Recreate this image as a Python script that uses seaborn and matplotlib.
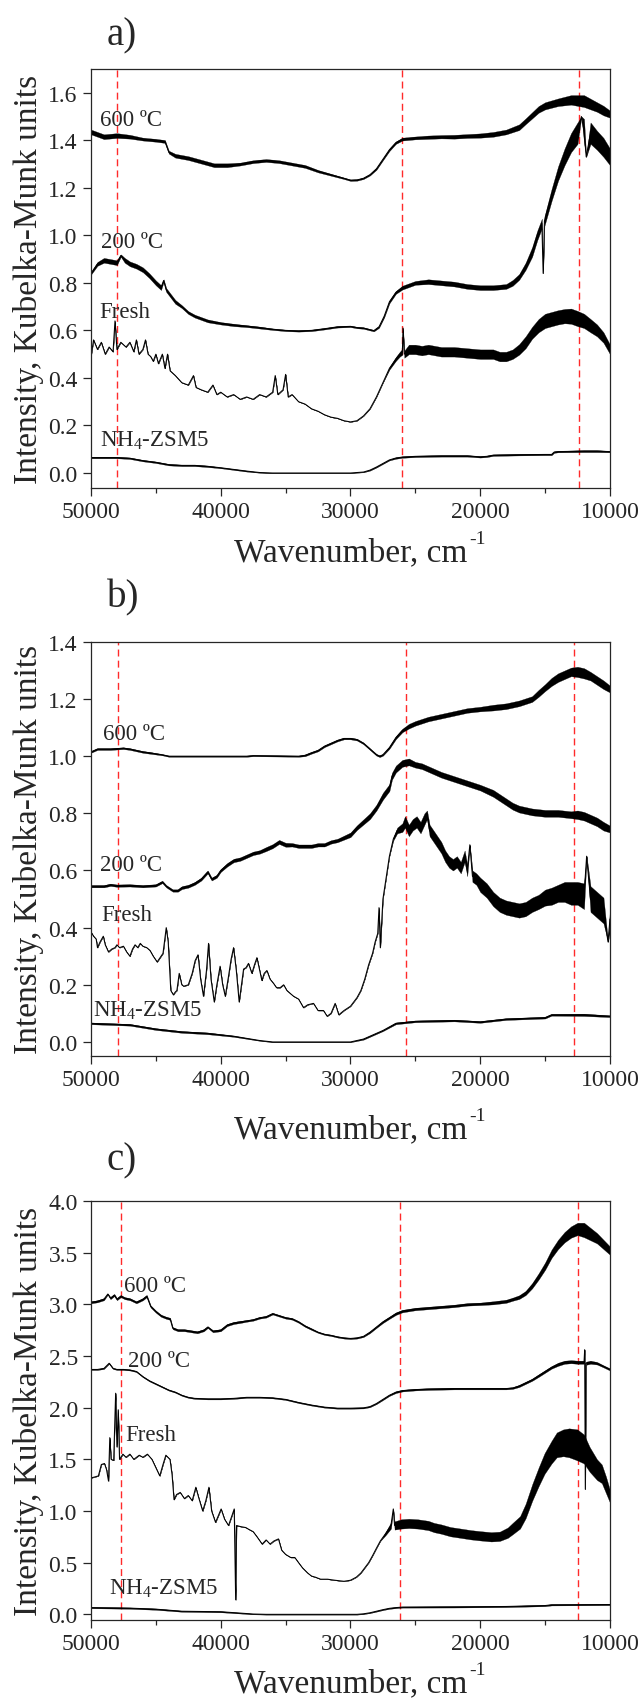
import pandas as pd
import matplotlib
matplotlib.use("Agg")
import matplotlib.pyplot as plt
import seaborn as sns
from matplotlib.ticker import MultipleLocator, FormatStrFormatter

# ---------- DATA ----------
# each curve: (wavenumber, intensity, half-width of the noise band)

a_600 = [(50000, 1.435, .010), (49000, 1.415, .010), (48000, 1.420, .010), (47000, 1.415, .008),
         (46000, 1.405, .006), (45000, 1.400, .006), (44300, 1.395, .006), (44000, 1.350, .006),
         (43500, 1.335, .008), (42500, 1.325, .008), (41500, 1.310, .008), (40500, 1.295, .008),
         (39500, 1.295, .008), (38500, 1.300, .006), (37500, 1.310, .006), (36500, 1.315, .006),
         (35500, 1.310, .006), (34500, 1.300, .006), (33500, 1.290, .006), (32500, 1.270, .005),
         (31500, 1.255, .004), (30500, 1.240, .003), (30000, 1.232, .003), (29500, 1.233, .003),
         (29000, 1.240, .003), (28500, 1.255, .003), (28000, 1.280, .004), (27500, 1.320, .004),
         (27000, 1.360, .005), (26500, 1.390, .005), (26000, 1.405, .006), (25000, 1.410, .006),
         (24000, 1.413, .007), (23000, 1.415, .007), (22000, 1.415, .008), (21000, 1.418, .008),
         (20000, 1.420, .009), (19000, 1.425, .010), (18000, 1.435, .010), (17000, 1.455, .012),
         (16500, 1.480, .012), (16000, 1.505, .013), (15500, 1.530, .014), (15000, 1.545, .015),
         (14000, 1.560, .016), (13000, 1.570, .020), (12000, 1.565, .025), (11000, 1.540, .020),
         (10500, 1.525, .020), (10000, 1.510, .015)]

a_200 = [(50000, .840, .005), (49500, .880, .008), (49000, .895, .010), (48500, .890, .010),
         (48000, .885, .010), (47700, .915, .005), (47400, .895, .010), (47000, .880, .010),
         (46500, .870, .010), (46000, .855, .010), (45500, .830, .010), (45000, .800, .010),
         (44600, .780, .010), (44400, .810, .005), (44200, .770, .008), (43500, .720, .008),
         (43000, .700, .006), (42500, .675, .006), (42000, .660, .006), (41000, .640, .006),
         (40000, .630, .005), (39000, .623, .005), (38000, .618, .004), (37000, .612, .004),
         (36000, .605, .003), (35000, .600, .003), (34000, .598, .003), (33000, .600, .003),
         (32000, .607, .003), (31000, .615, .003), (30000, .617, .003), (29500, .612, .003),
         (29000, .610, .003), (28500, .603, .003), (28200, .599, .003), (27800, .615, .004),
         (27400, .660, .005), (27000, .720, .006), (26500, .760, .006), (26000, .780, .008),
         (25500, .790, .008), (25000, .800, .008), (24000, .805, .010), (23000, .800, .010),
         (22000, .795, .010), (21000, .785, .010), (20000, .780, .010), (19000, .780, .010),
         (18000, .785, .010), (17500, .800, .012), (17000, .825, .012), (16500, .870, .015),
         (16000, .930, .020), (15600, 1.000, .020), (15250, 1.050, .020), (15150, .840, .000),
         (15050, 1.060, .020), (14500, 1.170, .025), (14000, 1.260, .030), (13500, 1.330, .035),
         (13000, 1.390, .040), (12500, 1.430, .045), (12200, 1.500, .000), (12000, 1.440, .050),
         (11830, 1.330, .000), (11500, 1.430, .045), (11000, 1.400, .040), (10500, 1.370, .040),
         (10000, 1.330, .035)]

a_fresh = [(50000, .49, 0), (49800, .56, 0), (49500, .52, 0), (49200, .55, 0), (48900, .50, 0),
           (48600, .53, 0), (48300, .51, 0), (48150, .64, 0), (48000, .52, 0), (47700, .55, 0),
           (47300, .53, 0), (47000, .55, 0), (46700, .51, 0), (46500, .56, 0), (46300, .50, 0),
           (46000, .52, 0), (45800, .56, 0), (45600, .50, 0), (45400, .49, 0), (45200, .47, 0),
           (45000, .50, 0), (44800, .46, 0), (44500, .50, 0), (44300, .44, 0), (44100, .50, 0),
           (43900, .43, 0), (43500, .41, 0), (43000, .38, 0), (42500, .37, 0), (42100, .41, 0),
           (41900, .36, 0), (41500, .35, 0), (41000, .34, 0), (40600, .37, 0), (40300, .33, 0),
           (40000, .34, 0), (39500, .32, 0), (39000, .33, 0), (38500, .31, 0), (38000, .32, 0),
           (37500, .31, 0), (37000, .33, 0), (36500, .32, 0), (36000, .34, 0), (35800, .41, 0),
           (35600, .33, 0), (35200, .35, 0), (35000, .415, 0), (34800, .32, 0), (34500, .33, 0),
           (34000, .30, 0), (33500, .29, 0), (33000, .27, 0), (32500, .26, 0), (32000, .245, 0),
           (31500, .235, 0), (31000, .23, 0), (30500, .22, 0), (30000, .215, 0), (29500, .22, 0),
           (29000, .24, 0), (28500, .27, 0), (28000, .32, 0), (27500, .38, 0), (27000, .44, .005),
           (26500, .48, .008), (26200, .50, .010), (26000, .51, .012), (25950, .61, 0),
           (25850, .50, .015), (25500, .52, .020), (25000, .52, .020), (24500, .515, .020),
           (24000, .52, .020), (23000, .51, .020), (22000, .51, .020), (21000, .505, .020),
           (20000, .50, .020), (19000, .50, .020), (18500, .49, .020), (18000, .49, .020),
           (17500, .50, .020), (17000, .52, .022), (16500, .55, .025), (16000, .59, .025),
           (15500, .62, .028), (15000, .64, .030), (14000, .655, .030), (13500, .66, .030),
           (13000, .66, .032), (12500, .65, .032), (12000, .64, .030), (11500, .62, .028),
           (11000, .60, .025), (10500, .57, .022), (10000, .52, .020)]

a_nh4 = [(50000, .065, .003), (48000, .065, .003), (47000, .062, .003), (46000, .052, .003),
         (45000, .045, .003), (44000, .035, .003), (43000, .032, .003), (42000, .032, .003),
         (41000, .028, .003), (40000, .022, .002), (39000, .015, .002), (38000, .008, .002),
         (37000, .002, .001), (36000, .000, .001), (30000, .000, .001), (29000, .004, .001),
         (28500, .012, .002), (28000, .025, .002), (27500, .040, .002), (27000, .055, .002),
         (26500, .063, .003), (26000, .067, .003), (25000, .070, .003), (23000, .072, .003),
         (21000, .072, .003), (20000, .068, .003), (19500, .070, .003), (19000, .075, .003),
         (17000, .077, .003), (15000, .078, .003), (14500, .078, .003), (14300, .088, .003),
         (14000, .090, .003), (12000, .092, .004), (11000, .092, .004), (10000, .090, .003)]

b_600 = [(50000, 1.015, .003), (49500, 1.025, .003), (48500, 1.025, .003), (47500, 1.028, .003),
         (47000, 1.025, .003), (46500, 1.020, .003), (46000, 1.015, .003), (45500, 1.012, .003),
         (44500, 1.005, .002), (44000, 1.000, .002), (43000, 1.000, .002), (38000, 1.000, .002),
         (37500, 1.002, .002), (34000, 1.000, .002), (33500, 1.003, .003), (33000, 1.012, .003),
         (32500, 1.020, .003), (32000, 1.035, .003), (31500, 1.045, .003), (31000, 1.055, .003),
         (30500, 1.062, .003), (30000, 1.062, .003), (29500, 1.058, .003), (29000, 1.045, .003),
         (28500, 1.025, .003), (28000, 1.005, .003), (27750, 1.000, .003), (27500, 1.005, .003),
         (27000, 1.030, .004), (26500, 1.065, .005), (26000, 1.090, .006), (25500, 1.105, .008),
         (25000, 1.115, .008), (24000, 1.130, .008), (23000, 1.140, .008), (22000, 1.150, .008),
         (21000, 1.160, .008), (20000, 1.165, .008), (19000, 1.170, .010), (18000, 1.175, .010),
         (17000, 1.185, .010), (16000, 1.200, .010), (15500, 1.220, .012), (15000, 1.240, .012),
         (14500, 1.260, .014), (14000, 1.275, .015), (13500, 1.285, .015), (13000, 1.295, .015),
         (12500, 1.295, .018), (12000, 1.290, .018), (11500, 1.280, .015), (11000, 1.265, .015),
         (10500, 1.250, .015), (10000, 1.235, .012)]

b_200 = [(50000, .545, .004), (49000, .545, .004), (48500, .550, .004), (48000, .547, .004),
         (47000, .548, .004), (46000, .545, .004), (45000, .548, .004), (44500, .560, .004),
         (44200, .545, .004), (43700, .530, .004), (43300, .530, .004), (43000, .540, .005),
         (42500, .545, .005), (42000, .555, .005), (41500, .570, .005), (41000, .595, .005),
         (40700, .570, .005), (40300, .580, .005), (40000, .600, .005), (39500, .620, .006),
         (39000, .635, .006), (38500, .640, .006), (38000, .650, .006), (37500, .660, .006),
         (37000, .665, .006), (36500, .675, .007), (36000, .685, .007), (35500, .700, .007),
         (35000, .690, .007), (34500, .690, .006), (34000, .685, .006), (33500, .685, .006),
         (33000, .685, .006), (32500, .690, .006), (32000, .690, .006), (31500, .700, .006),
         (31000, .705, .006), (30500, .715, .007), (30000, .725, .008), (29500, .750, .008),
         (29000, .770, .009), (28500, .790, .010), (28000, .820, .010), (27500, .860, .012),
         (27000, .890, .012), (26800, .930, .012), (26500, .955, .012), (26000, .975, .012),
         (25500, .980, .012), (25000, .970, .010), (24500, .965, .010), (24000, .955, .010),
         (23000, .935, .010), (22000, .920, .010), (21000, .905, .010), (20000, .890, .010),
         (19000, .870, .012), (18500, .855, .012), (18000, .840, .012), (17500, .825, .012),
         (17000, .815, .012), (16000, .805, .012), (15000, .800, .012), (14000, .800, .012),
         (13000, .795, .012), (12500, .795, .015), (12000, .790, .015), (11500, .780, .015),
         (11000, .770, .015), (10500, .755, .015), (10000, .745, .012)]

b_fresh = [(50000, .385, 0), (49800, .370, 0), (49600, .360, 0), (49500, .330, 0), (49300, .350, 0),
           (49050, .370, 0), (48900, .340, 0), (48650, .315, 0), (48400, .325, 0), (48150, .330, 0),
           (48000, .340, 0), (47800, .330, 0), (47500, .335, 0), (47250, .315, 0), (47000, .300, 0),
           (46800, .325, 0), (46600, .340, 0), (46400, .330, 0), (46200, .345, 0), (46000, .335, 0),
           (45700, .330, 0), (45450, .320, 0), (45200, .300, 0), (44900, .280, 0), (44600, .300, 0),
           (44450, .310, 0), (44200, .400, 0), (44050, .350, 0), (43850, .180, 0), (43650, .165, 0),
           (43500, .175, 0), (43380, .180, 0), (43200, .240, 0), (43000, .200, 0), (42850, .195, 0),
           (42500, .200, 0), (42200, .240, 0), (41970, .285, 0), (41750, .305, 0), (41550, .220, 0),
           (41330, .160, 0), (41100, .250, 0), (40940, .345, 0), (40750, .220, 0), (40500, .140, 0),
           (40300, .200, 0), (40050, .265, 0), (39850, .200, 0), (39650, .160, 0), (39400, .230, 0),
           (39200, .290, 0), (39010, .330, 0), (38800, .250, 0), (38580, .140, 0), (38400, .200, 0),
           (38240, .255, 0), (38050, .260, 0), (37860, .275, 0), (37600, .240, 0), (37400, .270, 0),
           (37210, .295, 0), (37000, .250, 0), (36830, .215, 0), (36650, .240, 0), (36440, .250, 0),
           (36200, .220, 0), (35930, .205, 0), (35700, .190, 0), (35420, .190, 0), (35150, .200, 0),
           (34900, .180, 0), (34650, .170, 0), (34390, .160, 0), (34000, .150, 0), (33620, .120, 0),
           (33300, .130, 0), (32850, .135, 0), (32500, .110, 0), (32080, .110, 0), (31800, .090, 0),
           (31500, .100, 0), (31180, .135, 0), (30900, .095, 0), (30500, .110, 0), (30000, .125, 0),
           (29500, .155, 0), (29200, .180, 0), (28900, .220, 0), (28600, .270, 0), (28300, .310, 0),
           (28100, .350, 0), (27900, .380, 0), (27800, .470, 0), (27700, .330, 0), (27500, .500, 0),
           (27300, .560, 0), (27000, .650, 0), (26700, .710, .005), (26400, .740, .010),
           (26000, .750, .015), (25800, .770, .020), (25500, .740, .020), (25200, .760, .020),
           (24900, .770, .020), (24600, .750, .020), (24300, .780, .020), (24100, .795, .015),
           (23900, .740, .020), (23600, .720, .020), (23300, .700, .020), (23000, .680, .020),
           (22700, .650, .020), (22400, .630, .020), (22100, .620, .020), (21800, .630, .020),
           (21500, .610, .020), (21200, .650, .020), (21000, .600, .020), (20800, .690, .000),
           (20600, .580, .020), (20300, .570, .020), (20000, .550, .025), (19500, .530, .025),
           (19000, .500, .025), (18500, .480, .025), (18000, .470, .025), (17500, .465, .025),
           (17000, .460, .025), (16500, .465, .025), (16000, .480, .025), (15500, .490, .025),
           (15000, .505, .028), (14500, .510, .030), (14000, .520, .030), (13500, .525, .035),
           (13000, .520, .040), (12500, .520, .040), (12000, .510, .045), (11800, .650, .000),
           (11500, .500, .045), (11000, .480, .045), (10500, .460, .045), (10150, .350, .000),
           (10000, .430, .040)]

b_nh4 = [(50000, .065, .003), (47000, .060, .003), (45000, .045, .003), (43000, .035, .003),
         (41000, .030, .003), (39000, .020, .002), (37000, .005, .001), (36000, .000, .001),
         (30000, .000, .001), (29000, .010, .002), (27500, .040, .002), (26500, .065, .003),
         (25000, .072, .003), (22000, .075, .003), (20000, .070, .003), (18000, .080, .003),
         (15000, .085, .003), (14500, .095, .003), (12000, .095, .004), (10000, .090, .003)]

c_600 = [(50000, 3.02, .010), (49500, 3.03, .010), (49000, 3.05, .010), (48700, 3.10, .005),
         (48500, 3.06, .010), (48200, 3.09, .010), (48000, 3.05, .010), (47700, 3.08, .010),
         (47400, 3.06, .010), (47000, 3.05, .010), (46500, 3.02, .010), (46000, 3.05, .010),
         (45700, 3.08, .010), (45400, 2.98, .010), (45000, 2.93, .010), (44600, 2.89, .010),
         (44200, 2.87, .010), (43900, 2.86, .010), (43700, 2.77, .010), (43300, 2.75, .010),
         (42800, 2.75, .010), (42300, 2.74, .010), (41800, 2.73, .010), (41300, 2.75, .010),
         (41000, 2.78, .008), (40600, 2.74, .010), (40000, 2.75, .010), (39500, 2.80, .010),
         (39000, 2.82, .010), (38500, 2.83, .010), (38000, 2.84, .008), (37500, 2.85, .008),
         (37000, 2.87, .008), (36500, 2.88, .008), (36000, 2.91, .008), (35500, 2.89, .008),
         (35000, 2.87, .008), (34500, 2.86, .008), (34000, 2.83, .008), (33500, 2.79, .008),
         (33000, 2.76, .008), (32500, 2.73, .006), (32000, 2.71, .006), (31500, 2.70, .006),
         (31000, 2.685, .006), (30500, 2.675, .006), (30000, 2.67, .006), (29500, 2.675, .006),
         (29000, 2.69, .006), (28500, 2.73, .008), (28000, 2.78, .008), (27500, 2.83, .010),
         (27000, 2.87, .010), (26500, 2.91, .012), (26000, 2.935, .012), (25500, 2.945, .012),
         (25000, 2.955, .012), (24000, 2.965, .012), (23000, 2.975, .012), (22000, 2.985, .012),
         (21000, 3.00, .012), (20000, 3.005, .012), (19000, 3.015, .015), (18000, 3.03, .015),
         (17500, 3.05, .015), (17000, 3.07, .018), (16500, 3.11, .020), (16000, 3.18, .025),
         (15500, 3.27, .030), (15000, 3.37, .035), (14500, 3.49, .040), (14000, 3.58, .045),
         (13500, 3.65, .050), (13000, 3.70, .055), (12500, 3.73, .060), (12000, 3.72, .070),
         (11500, 3.68, .060), (11000, 3.64, .050), (10500, 3.58, .045), (10000, 3.52, .040)]

c_200 = [(50000, 2.37, .005), (49500, 2.37, .005), (49000, 2.38, .005), (48600, 2.43, .005),
         (48300, 2.38, .005), (48000, 2.37, .005), (47500, 2.37, .005), (47000, 2.365, .005),
         (46500, 2.35, .005), (46000, 2.30, .005), (45500, 2.26, .005), (45000, 2.23, .005),
         (44500, 2.20, .005), (44000, 2.17, .005), (43500, 2.15, .005), (43000, 2.12, .005),
         (42500, 2.10, .005), (42000, 2.09, .005), (41000, 2.085, .005), (40000, 2.085, .005),
         (39000, 2.09, .005), (38000, 2.10, .005), (37000, 2.10, .005), (36000, 2.095, .005),
         (35000, 2.08, .005), (34000, 2.05, .005), (33000, 2.025, .005), (32000, 2.005, .005),
         (31000, 1.995, .005), (30000, 1.995, .005), (29000, 1.998, .005), (28500, 2.01, .005),
         (28000, 2.04, .005), (27500, 2.08, .006), (27000, 2.12, .006), (26500, 2.15, .008),
         (26000, 2.165, .008), (25000, 2.175, .008), (24000, 2.18, .008), (22000, 2.185, .008),
         (20000, 2.185, .008), (18000, 2.185, .008), (17500, 2.19, .008), (17000, 2.21, .010),
         (16500, 2.24, .010), (16000, 2.27, .010), (15500, 2.31, .012), (15000, 2.35, .012),
         (14500, 2.39, .012), (14000, 2.42, .015), (13500, 2.44, .015), (13000, 2.445, .015),
         (12500, 2.44, .015), (12000, 2.44, .015), (11950, 2.56, .000), (11900, 1.21, .000),
         (11850, 2.43, .015), (11500, 2.44, .015), (11000, 2.43, .012), (10500, 2.40, .010),
         (10000, 2.37, .010)]

c_fresh = [(50000, 1.32, 0), (49700, 1.33, 0), (49430, 1.34, 0), (49200, 1.45, 0), (48960, 1.46, 0),
           (48800, 1.40, 0), (48650, 1.29, 0), (48550, 1.71, 0), (48450, 1.50, 0), (48250, 1.49, 0),
           (48100, 2.14, 0), (48000, 1.62, 0), (47900, 1.98, 0), (47800, 1.50, 0), (47540, 1.55, 0),
           (47300, 1.52, 0), (47000, 1.55, 0), (46700, 1.50, 0), (46280, 1.54, 0), (46000, 1.52, 0),
           (45650, 1.55, 0), (45300, 1.50, 0), (45000, 1.42, 0), (44700, 1.34, 0), (44450, 1.45, 0),
           (44230, 1.54, 0), (43910, 1.50, 0), (43750, 1.35, 0), (43600, 1.11, 0), (43400, 1.16, 0),
           (43120, 1.18, 0), (42800, 1.12, 0), (42500, 1.15, 0), (42200, 1.10, 0), (41920, 1.23, 0),
           (41700, 1.13, 0), (41390, 1.00, 0), (41150, 1.10, 0), (40910, 1.23, 0), (40700, 1.00, 0),
           (40400, 0.89, 0), (40200, 0.95, 0), (39970, 1.02, 0), (39700, 0.92, 0), (39400, 0.86, 0),
           (39150, 0.95, 0), (38960, 1.02, 0), (38850, 0.14, 0), (38780, 0.86, 0), (38500, 0.85, 0),
           (38070, 0.84, 0), (37800, 0.82, 0), (37500, 0.80, 0), (37200, 0.75, 0), (36810, 0.68, 0),
           (36500, 0.72, 0), (36200, 0.68, 0), (35900, 0.71, 0), (35550, 0.73, 0), (35300, 0.62, 0),
           (35000, 0.58, 0), (34600, 0.55, 0), (34290, 0.55, 0), (34000, 0.50, 0), (33700, 0.45, 0),
           (33300, 0.40, 0), (33000, 0.37, 0), (32710, 0.36, 0), (32300, 0.34, 0), (31760, 0.34, 0),
           (31200, 0.33, 0), (30500, 0.32, 0), (30000, 0.33, 0), (29550, 0.36, 0), (29200, 0.40, 0),
           (28900, 0.45, 0), (28600, 0.50, 0), (28290, 0.57, 0), (28000, 0.64, 0), (27700, 0.71, 0),
           (27300, 0.78, .015), (26880, 0.86, .030), (26700, 1.02, 0), (26600, 0.86, .040),
           (26080, 0.875, .045), (25500, 0.88, .045), (24820, 0.875, .045), (24000, 0.86, .045),
           (23560, 0.84, .045), (23000, 0.825, .045), (22300, 0.80, .045), (21500, 0.785, .045),
           (20720, 0.77, .045), (20000, 0.76, .045), (19150, 0.75, .045), (18500, 0.755, .045),
           (17880, 0.79, .050), (17500, 0.83, .055), (16930, 0.89, .060), (16500, 1.00, .070),
           (15990, 1.18, .080), (15500, 1.33, .090), (15040, 1.46, .100), (14500, 1.57, .110),
           (14100, 1.64, .120), (13600, 1.66, .130), (13150, 1.66, .140), (12520, 1.64, .150),
           (12000, 1.60, .140), (11570, 1.50, .120), (11000, 1.40, .100), (10630, 1.36, .090),
           (10300, 1.25, .080), (10000, 1.14, .060)]

c_nh4 = [(50000, .065, .006), (47000, .060, .006), (45000, .050, .006), (43000, .030, .005),
         (40000, .025, .005), (38500, .012, .004), (37500, .003, .003), (36500, .000, .003),
         (29500, .000, .003), (29000, .005, .003), (28500, .015, .003), (28000, .030, .004),
         (27500, .045, .004), (27000, .058, .005), (26500, .065, .005), (26000, .070, .005),
         (22000, .072, .006), (18000, .076, .006), (15000, .085, .006), (14500, .092, .006),
         (10000, .095, .006)]

curve_names = ["600 ºC", "200 ºC", "Fresh", r"NH$_\mathregular{4}$-ZSM5"]
panel_titles = ["a)", "b)", "c)"]
guide_lines = [[48000, 26000, 12400], [47950, 25750, 12750], [47700, 26150, 12450]]

# ---------- STYLE ----------
sns.set_style("ticks")
plt.rcParams["font.family"] = ["Liberation Serif", "DejaVu Serif"]
plt.rcParams["mathtext.fontset"] = "custom"
plt.rcParams["mathtext.rm"] = "Liberation Serif"
plt.rcParams["mathtext.it"] = "Liberation Serif:italic"
ink = "#262626"
W, H = 642, 1699

fig = plt.figure(figsize=(W / 100, H / 100), dpi=100)

panels = [
    dict(curves=[a_600, a_200, a_fresh, a_nh4], rect=[0.1417, 0.7122, 0.8084, 0.2466],
         ylim=(-0.063, 1.70), ystep=0.2, title_y=1 - 36 / H, xlab_y=-0.172,
         labels=[(49340, 1.463), (49210, 0.949), (49340, 0.656), (49340, 0.116)]),
    dict(curves=[b_600, b_200, b_fresh, b_nh4], rect=[0.1417, 0.3779, 0.8084, 0.2437],
         ylim=(-0.049, 1.40), ystep=0.2, title_y=1 - 598 / H, xlab_y=-0.196,
         labels=[(49050, 1.061), (49270, 0.602), (49210, 0.426), (49810, 0.092)]),
    dict(curves=[c_600, c_200, c_fresh, c_nh4], rect=[0.1417, 0.0459, 0.8084, 0.2466],
         ylim=(-0.055, 4.0), ystep=0.5, title_y=1 - 1161 / H, xlab_y=-0.169,
         labels=[(47445, 3.125), (47160, 2.40), (47320, 1.686), (48580, 0.196)]),
]

axes = []
for p, title, vlines in zip(panels, panel_titles, guide_lines):
    ax = fig.add_axes(p["rect"])
    axes.append(ax)
    for curve in p["curves"]:
        df = pd.DataFrame(curve, columns=["wn", "km", "noise"])
        ax.fill_between(df["wn"], df["km"] - df["noise"], df["km"] + df["noise"],
                        color="black", lw=0.2)
        sns.lineplot(data=df, x="wn", y="km", sort=False, estimator=None,
                     color="black", lw=0.75, ax=ax)
    for v in vlines:
        ax.axvline(v, color="#ff2a2a", lw=1.0, ls=(0, (5, 3)), zorder=0)
    for name, (tx, ty) in zip(curve_names, p["labels"]):
        ax.text(tx, ty, name, fontsize=16.5, color=ink, ha="left", va="baseline")

    ax.set_xlim(50000, 10000)
    ax.set_ylim(*p["ylim"])
    ax.xaxis.set_major_locator(MultipleLocator(10000))
    ax.xaxis.set_minor_locator(MultipleLocator(5000))
    ax.yaxis.set_major_locator(MultipleLocator(p["ystep"]))
    ax.yaxis.set_major_formatter(FormatStrFormatter("%.1f"))
    ax.tick_params(which="major", direction="out", length=6, width=0.9,
                   labelsize=17, colors=ink, labelcolor=ink)
    ax.tick_params(which="minor", direction="out", length=3.5, width=0.9, colors=ink)
    for s in ax.spines.values():
        s.set_linewidth(0.9)
        s.set_color(ink)
    ax.set_xlabel("Wavenumber, cm", fontsize=24, color=ink, va="baseline")
    ax.xaxis.set_label_coords(0.5, p["xlab_y"])
    ax.set_ylabel("Intensity, Kubelka-Munk units", fontsize=24, color=ink)
    ax.yaxis.set_label_coords(-0.09, 0.5)
    fig.text(107 / W, p["title_y"], title, fontsize=28, color=ink, ha="left", va="center")

# superscript "-1" after each x label
fig.canvas.draw()
renderer = fig.canvas.get_renderer()
for ax in axes:
    bb = ax.xaxis.label.get_window_extent(renderer)
    fig.text((bb.x1 + 2) / W, (bb.y1 - 2) / H, "-1", fontsize=14, color=ink,
             ha="left", va="center")

fig.savefig("out.png", dpi=100)
